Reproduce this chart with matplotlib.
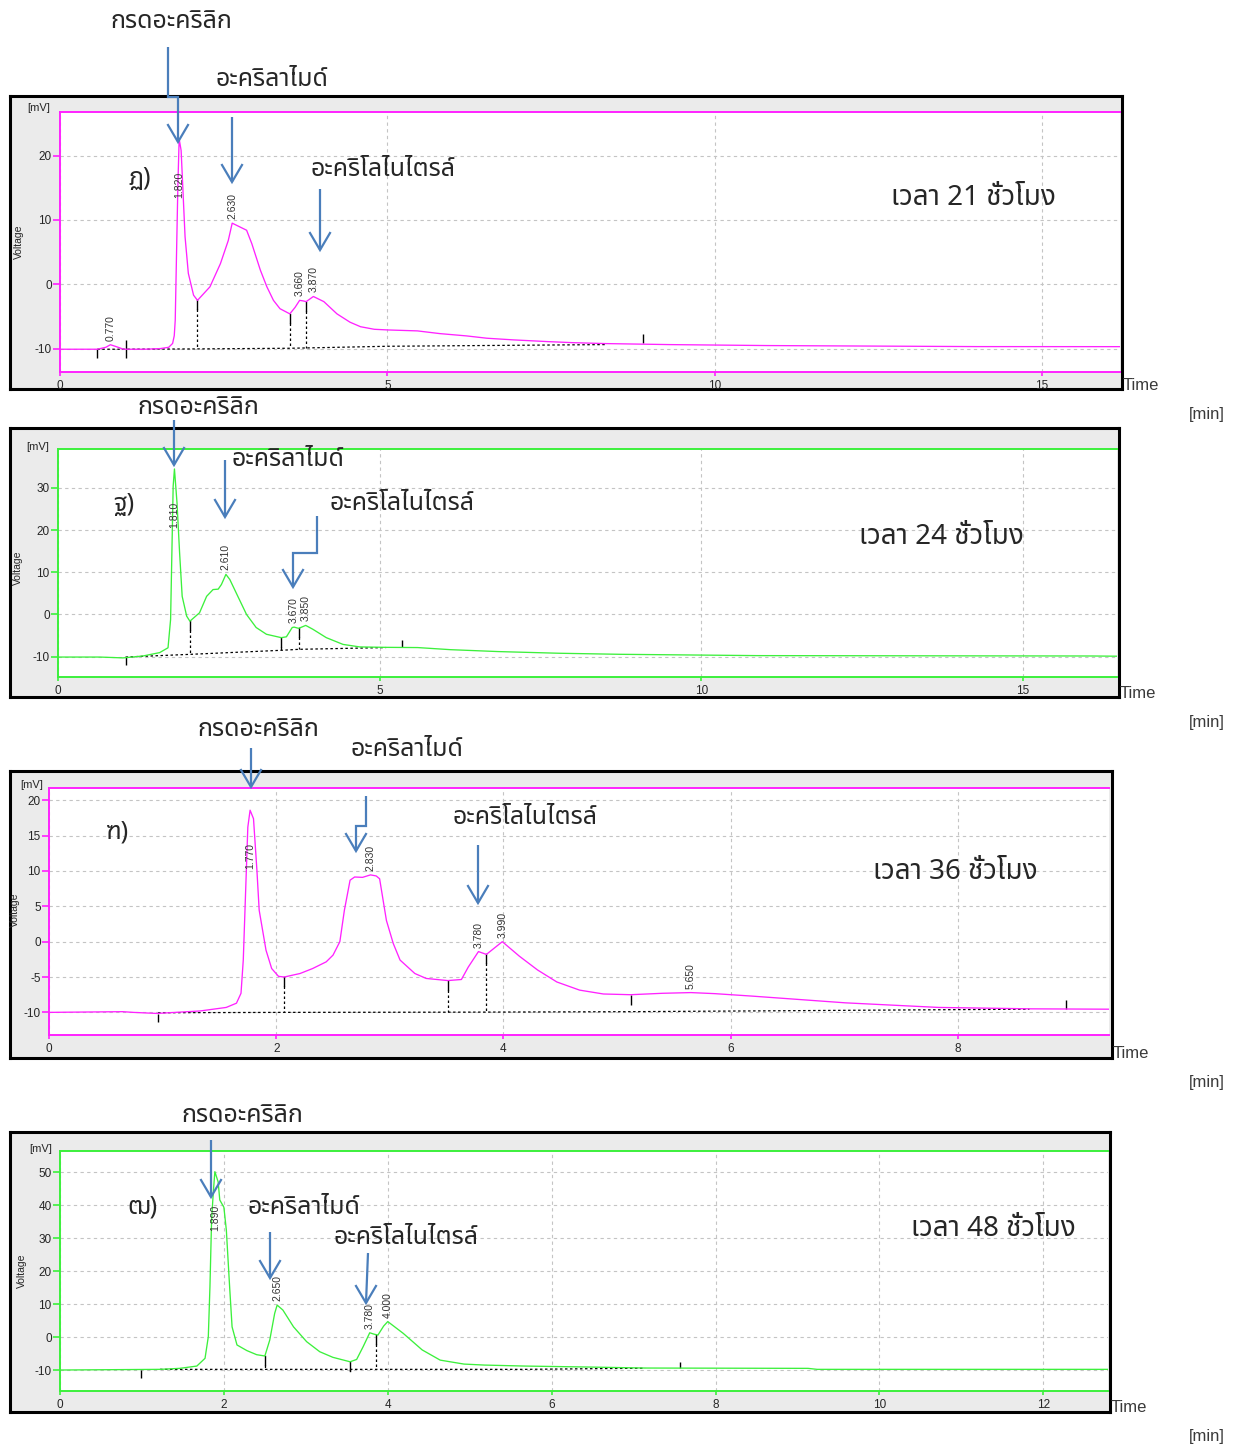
import numpy as np
import matplotlib
matplotlib.use("Agg")
import matplotlib.pyplot as plt
from matplotlib import font_manager
from matplotlib.ft2font import FT2Font

# ---------------------------------------------------------------- data
# retention time [min] / detector signal [mV] for each run
t_21h = [0.00, 0.57, 0.70, 0.77, 0.86, 0.97, 1.30, 1.53, 1.66, 1.72, 1.745, 1.76, 1.78, 1.80, 1.82,
         1.85, 1.875, 1.91, 1.96, 2.04, 2.10, 2.29, 2.45, 2.57, 2.63, 2.75, 2.85, 2.93, 3.06, 3.16,
         3.26, 3.36, 3.51, 3.59, 3.66, 3.72, 3.76, 3.87, 4.03, 4.23, 4.43, 4.59, 4.80, 5.00, 5.46,
         5.80, 6.21, 6.52, 6.93, 7.44, 7.81, 8.32, 9.31, 10.80, 14.00, 16.19]
v_21h = [-10.1, -10.1, -9.8, -9.4, -9.7, -10.1, -10.1, -10.0, -9.8, -9.2, -8.0, -5.6, 4.8, 15.2, 22.6,
         20.8, 15.2, 7.4, 1.7, -1.7, -2.5, -0.4, 3.2, 6.8, 9.5, 8.9, 8.4, 6.3, 2.2, -0.4,
         -2.5, -3.8, -4.6, -3.6, -2.5, -2.6, -2.7, -1.9, -2.7, -4.6, -5.9, -6.6, -7.0, -7.1, -7.25,
         -7.67, -8.03, -8.39, -8.65, -8.91, -9.07, -9.22, -9.38, -9.53, -9.69, -9.7]

t_24h = [0.00, 0.65, 1.01, 1.32, 1.58, 1.71, 1.75, 1.77, 1.79, 1.81, 1.85, 1.89, 1.93, 2.00, 2.05,
         2.20, 2.31, 2.41, 2.49, 2.54, 2.61, 2.67, 2.77, 2.93, 3.08, 3.24, 3.47, 3.55, 3.64, 3.67,
         3.74, 3.85, 3.96, 4.17, 4.43, 4.69, 5.10, 5.59, 6.10, 6.84, 7.79, 8.74, 10.87, 16.08, 16.46]
v_24h = [-10.1, -10.1, -10.3, -9.85, -9.05, -7.9, -1.2, 14.6, 30.4, 34.5, 26.4, 14.6, 4.3, -0.4, -1.6,
         0.4, 4.3, 5.9, 6.0, 7.1, 9.5, 8.3, 5.1, 0.0, -3.1, -4.7, -5.5, -5.3, -3.1, -3.0,
         -3.3, -2.6, -3.5, -5.5, -7.1, -7.7, -7.8, -7.85, -8.35, -8.8, -9.2, -9.45, -9.76, -9.85, -9.9]

t_36h = [0.00, 0.65, 0.74, 0.95, 1.33, 1.56, 1.65, 1.69, 1.71, 1.73, 1.75, 1.77, 1.80, 1.83, 1.85,
         1.91, 1.96, 2.02, 2.07, 2.21, 2.32, 2.44, 2.50, 2.56, 2.60, 2.65, 2.69, 2.76, 2.83, 2.88,
         2.91, 2.97, 3.03, 3.09, 3.22, 3.32, 3.51, 3.63, 3.69, 3.78, 3.85, 3.99, 4.14, 4.30, 4.47,
         4.67, 4.88, 5.12, 5.40, 5.65, 5.86, 6.19, 7.01, 7.83, 8.65, 9.33]
v_36h = [-10.0, -9.9, -10.0, -10.15, -9.8, -9.3, -8.7, -7.3, -2.6, 6.8, 16.2, 18.6, 17.4, 10.1, 4.45,
         -1.2, -3.8, -4.9, -5.0, -4.5, -3.8, -2.85, -1.9, 0.0, 4.45, 8.7, 9.15, 9.1, 9.45, 9.3,
         8.9, 3.0, -0.25, -2.6, -4.5, -5.2, -5.5, -5.35, -3.6, -1.4, -1.8, 0.0, -2.05, -4.0, -5.7,
         -6.85, -7.4, -7.5, -7.3, -7.2, -7.35, -7.7, -8.65, -9.3, -9.5, -9.55]

t_48h = [0.00, 1.22, 1.46, 1.67, 1.77, 1.81, 1.83, 1.85, 1.87, 1.89, 1.93, 1.95, 2.00, 2.03, 2.07,
         2.10, 2.16, 2.28, 2.40, 2.50, 2.56, 2.62, 2.65, 2.72, 2.85, 3.01, 3.17, 3.33, 3.54, 3.62,
         3.70, 3.78, 3.83, 3.88, 3.95, 4.00, 4.19, 4.42, 4.64, 4.93, 5.18, 5.67, 6.46, 7.14, 9.13,
         9.24, 12.79]
v_48h = [-10.0, -9.8, -9.5, -8.8, -6.45, 0.1, 15.3, 35.5, 43.6, 50.2, 47.1, 41.6, 39.4, 32.5, 15.3,
         3.1, -2.4, -4.1, -5.35, -5.75, -0.9, 7.2, 9.7, 8.2, 3.1, -1.4, -4.45, -6.15, -7.5, -6.8,
         -2.9, 1.3, 0.9, 0.6, 3.35, 4.7, 1.1, -3.9, -7.0, -8.2, -8.5, -8.8, -9.1, -9.4, -9.5,
         -9.8, -9.8]

# integrated peaks (retention times printed above each peak)
rt_21h = [0.770, 1.820, 2.630, 3.660, 3.870]
rt_24h = [1.810, 2.610, 3.670, 3.850]
rt_36h = [1.770, 2.830, 3.780, 3.990, 5.650]
rt_48h = [1.890, 2.650, 3.780, 4.000]

# integration baselines
bt_21h = [0.57, 0.97, 2.10, 3.51, 3.76, 5.00, 8.32]
bv_21h = [-10.1, -10.1, -10.05, -9.95, -9.9, -9.64, -9.38]
bt_24h = [1.05, 2.05, 3.47, 3.74, 5.10]
bv_24h = [-10.1, -9.46, -8.5, -8.27, -7.85]
bt_36h = [0.96, 2.07, 3.51, 3.85, 5.12, 8.63]
bv_36h = [-10.05, -10.0, -9.97, -9.96, -9.9, -9.55]
bt_48h = [1.22, 2.50, 3.54, 3.86, 5.67, 7.14]
bv_48h = [-9.8, -9.8, -9.8, -9.8, -9.8, -9.45]

# peak boundaries dropped to the baseline
drop_21h = [2.10, 3.51, 3.76]
drop_24h = [2.05, 3.47, 3.74]
drop_36h = [2.07, 3.51, 3.85]
drop_48h = [2.50, 3.54, 3.86]

# integration event marks: time, lower and upper signal
ev_t_21h, ev_lo_21h, ev_hi_21h = [0.57, 1.01, 8.90], [-11.4, -11.4, -9.2], [-10.0, -8.6, -7.8]
ev_t_24h, ev_lo_24h, ev_hi_24h = [1.05, 5.34], [-12.0, -7.8], [-10.1, -6.0]
ev_t_36h, ev_lo_36h, ev_hi_36h = [0.96, 5.12, 8.95], [-11.4, -9.0, -9.5], [-10.2, -7.5, -8.3]
ev_t_48h, ev_lo_48h, ev_hi_48h = [0.985, 7.57], [-12.4, -9.5], [-10.0, -7.7]

tags = ["ฏ)", "ฐ)", "ฑ)", "ฒ)"]
hours = ["เวลา 21 ชั่วโมง", "เวลา 24 ชั่วโมง", "เวลา 36 ชั่วโมง", "เวลา 48 ชั่วโมง"]
name_acid = "กรดอะคริลิก"
name_amide = "อะคริลาไมด์"
name_nitrile = "อะคริโลไนไตรล์"

x_ticks_21h = [0, 5, 10, 15]
x_ticks_24h = [0, 5, 10, 15]
x_ticks_36h = [0, 2, 4, 6, 8]
x_ticks_48h = [0, 2, 4, 6, 8, 10, 12]
y_ticks_21h = [-10, 0, 10, 20]
y_ticks_24h = [-10, 0, 10, 20, 30]
y_ticks_36h = [-10, -5, 0, 5, 10, 15, 20]
y_ticks_48h = [-10, 0, 10, 20, 30, 40, 50]


# ---------------------------------------------------------------- fonts
def thai_family():
    found = []
    for f in font_manager.fontManager.ttflist:
        try:
            if 0x0E01 in FT2Font(f.fname).get_charmap():
                found.append(f.name)
        except Exception:
            pass
    pref = ["Noto Sans Thai", "Noto Sans Thai UI", "Noto Sans Thai Looped", "Loma", "Garuda",
            "Umpush", "Waree", "Sawasdee", "Kinnari", "Norasi", "Tlwg Typo", "FreeSans"]
    for p in pref:
        if p in found:
            return p
    return found[0] if found else "DejaVu Sans"


THAI = [thai_family(), "DejaVu Sans"]
LAT = ["Liberation Sans", "DejaVu Sans"]

# ---------------------------------------------------------------- layout
W, H = 1242, 1445
fig = plt.figure(figsize=(W / 100, H / 100), dpi=100)
fig.patch.set_facecolor("white")


def rect(x0, y0, x1, y1):
    return [x0 / W, 1 - y1 / H, (x1 - x0) / W, (y1 - y0) / H]


MAGENTA = "#ff22ff"
GREEN = "#3cf03c"
BLUE = "#4a7ebb"
TXT = "#262626"

panels = [
    dict(frame=(10, 96, 1122, 389), plot=(60, 112, 1120, 372), xlim=(0, 16.19), ylim=(-13.64, 26.78),
         xt=x_ticks_21h, yt=y_ticks_21h, c=MAGENTA, t=t_21h, v=v_21h, rt=rt_21h, bt=bt_21h, bv=bv_21h,
         drop=drop_21h, ev=(ev_t_21h, ev_lo_21h, ev_hi_21h), mv=(39, 108), volt=(19, 242),
         time=(1123, 385), minu=(1225, 414)),
    dict(frame=(10, 428, 1119, 697), plot=(58, 449, 1117, 677), xlim=(0, 16.46), ylim=(-14.83, 39.23),
         xt=x_ticks_24h, yt=y_ticks_24h, c=GREEN, t=t_24h, v=v_24h, rt=rt_24h, bt=bt_24h, bv=bv_24h,
         drop=drop_24h, ev=(ev_t_24h, ev_lo_24h, ev_hi_24h), mv=(38, 447), volt=(18, 568),
         time=(1120, 693), minu=(1225, 723)),
    dict(frame=(10, 771, 1112, 1058), plot=(49, 788, 1109, 1035), xlim=(0, 9.33), ylim=(-13.2, 21.74),
         xt=x_ticks_36h, yt=y_ticks_36h, c=MAGENTA, t=t_36h, v=v_36h, rt=rt_36h, bt=bt_36h, bv=bv_36h,
         drop=drop_36h, ev=(ev_t_36h, ev_lo_36h, ev_hi_36h), mv=(32, 785), volt=(15, 910),
         time=(1113, 1054), minu=(1225, 1083)),
    dict(frame=(10, 1132, 1110, 1412), plot=(60, 1151, 1108, 1391), xlim=(0, 12.79), ylim=(-16.37, 56.47),
         xt=x_ticks_48h, yt=y_ticks_48h, c=GREEN, t=t_48h, v=v_48h, rt=rt_48h, bt=bt_48h, bv=bv_48h,
         drop=drop_48h, ev=(ev_t_48h, ev_lo_48h, ev_hi_48h), mv=(41, 1149), volt=(22, 1271),
         time=(1111, 1407), minu=(1225, 1437)),
]

for p in panels:
    fr = fig.add_axes(rect(*p["frame"]))
    fr.set_facecolor("#ebebeb")
    fr.set_xticks([])
    fr.set_yticks([])
    for s in fr.spines.values():
        s.set_color("black")
        s.set_linewidth(2.2)
    fr.set_zorder(0)

    ax = fig.add_axes(rect(*p["plot"]))
    ax.set_zorder(1)
    ax.set_facecolor("white")
    ax.set_xlim(*p["xlim"])
    ax.set_ylim(*p["ylim"])
    ax.set_xticks(p["xt"])
    ax.set_yticks(p["yt"])
    ax.set_xticklabels([str(x) for x in p["xt"]], fontsize=8.5, family=LAT, color=TXT)
    ax.set_yticklabels([str(y) for y in p["yt"]], fontsize=8.5, family=LAT, color=TXT)
    ax.tick_params(axis="y", direction="out", length=5, width=1.2, color=p["c"], pad=1)
    ax.tick_params(axis="x", direction="out", length=3, width=1.2, color=p["c"], pad=3)
    for side in ("top", "bottom", "left"):
        ax.spines[side].set_color(p["c"])
        ax.spines[side].set_linewidth(1.4)
    ax.spines["right"].set_visible(False)
    ax.grid(True, color="#c4c4c4", linestyle=(0, (3, 3)), linewidth=0.8)
    ax.set_axisbelow(True)

    t = np.asarray(p["t"])
    v = np.asarray(p["v"])
    ax.plot(t, v, color=p["c"], lw=0.95, zorder=3)

    # integration baseline and peak boundaries
    ax.plot(p["bt"], p["bv"], color="black", lw=0.9, ls=(0, (2, 2)), zorder=2)
    y0, y1 = p["ylim"]
    hpx = p["plot"][3] - p["plot"][1]
    mv_per_px = (y1 - y0) / hpx
    for td in p["drop"]:
        top = np.interp(td, t, v)
        bot = np.interp(td, p["bt"], p["bv"])
        mid = top - 9 * mv_per_px
        ax.plot([td, td], [top, mid], color="black", lw=1.0, zorder=2)
        ax.plot([td, td], [mid, bot], color="black", lw=0.9, ls=(0, (2, 2)), zorder=2)
    et, elo, ehi = p["ev"]
    ax.vlines(et, elo, ehi, color="black", lw=1.0, zorder=2)

    # retention-time labels
    for rt in p["rt"]:
        apex = np.interp(rt, t, v)
        room = (y1 - apex) / mv_per_px
        if room > 35:
            ax.annotate(f"{rt:.3f}", (rt, apex), xytext=(0, 4), textcoords="offset pixels",
                        rotation=90, ha="center", va="bottom", fontsize=7.5, family=LAT,
                        color="#333333", zorder=4)
        else:
            ax.annotate(f"{rt:.3f}", (rt, apex), xytext=(0, -33), textcoords="offset pixels",
                        rotation=90, ha="center", va="top", fontsize=7.5, family=LAT,
                        color="#333333", zorder=4)

    fig.text(p["mv"][0] / W, 1 - p["mv"][1] / H, "[mV]", fontsize=8, family=LAT, color=TXT,
             ha="center", va="center")
    fig.text(p["volt"][0] / W, 1 - p["volt"][1] / H, "Voltage", fontsize=7.5, family=LAT,
             color=TXT, ha="center", va="center", rotation=90)
    fig.text(p["time"][0] / W, 1 - p["time"][1] / H, "Time", fontsize=12, family=LAT,
             color="#3a3a3a", ha="left", va="center")
    fig.text(p["minu"][0] / W, 1 - p["minu"][1] / H, "[min]", fontsize=12, family=LAT,
             color="#3a3a3a", ha="right", va="center")

# ---------------------------------------------------------------- annotations (pixel overlay)
ov = fig.add_axes([0, 0, 1, 1])
ov.set_xlim(0, W)
ov.set_ylim(H, 0)
ov.axis("off")
ov.set_zorder(5)

arrows = [
    [(168, 47), (168, 97), (178, 97), (178, 142)],
    [(232, 117), (232, 182)],
    [(320, 189), (320, 250)],
    [(174, 420), (174, 465)],
    [(225, 460), (225, 517)],
    [(317, 516), (317, 553), (293, 553), (293, 587)],
    [(251, 748), (251, 787)],
    [(366, 796), (366, 826), (356, 826), (356, 851)],
    [(478, 845), (478, 903)],
    [(211, 1140), (211, 1197)],
    [(270, 1232), (270, 1278)],
    [(368, 1253), (366, 1303)],
]
for pts in arrows:
    xs, ys = zip(*pts)
    ov.plot(xs, ys, color=BLUE, lw=1.6, solid_capstyle="butt", solid_joinstyle="miter")
    tx, ty = pts[-1]
    ov.plot([tx - 10, tx, tx + 10], [ty - 17, ty, ty - 17], color=BLUE, lw=1.6,
            solid_joinstyle="miter")

labels = [
    (name_acid, 171, 22), (name_amide, 272, 80), (name_nitrile, 383, 170),
    (name_acid, 198, 407), (name_amide, 288, 460), (name_nitrile, 402, 503),
    (name_acid, 258, 730), (name_amide, 407, 750), (name_nitrile, 525, 817),
    (name_acid, 242, 1115), (name_amide, 304, 1208), (name_nitrile, 406, 1238),
]
for s, x, y in labels:
    ov.text(x, y, s, fontsize=18, family=THAI, color=TXT, ha="center", va="center")

tag_pos = [(140, 178), (124, 505), (117, 832), (142, 1207)]
for s, (x, y) in zip(tags, tag_pos):
    ov.text(x, y, s, fontsize=18, family=THAI, color=TXT, ha="center", va="center")

hour_pos = [(973, 198), (941, 537), (955, 872), (993, 1229)]
for s, (x, y) in zip(hours, hour_pos):
    ov.text(x, y, s, fontsize=20, family=THAI, color=TXT, ha="center", va="center")

fig.savefig("out.png", dpi=100)
